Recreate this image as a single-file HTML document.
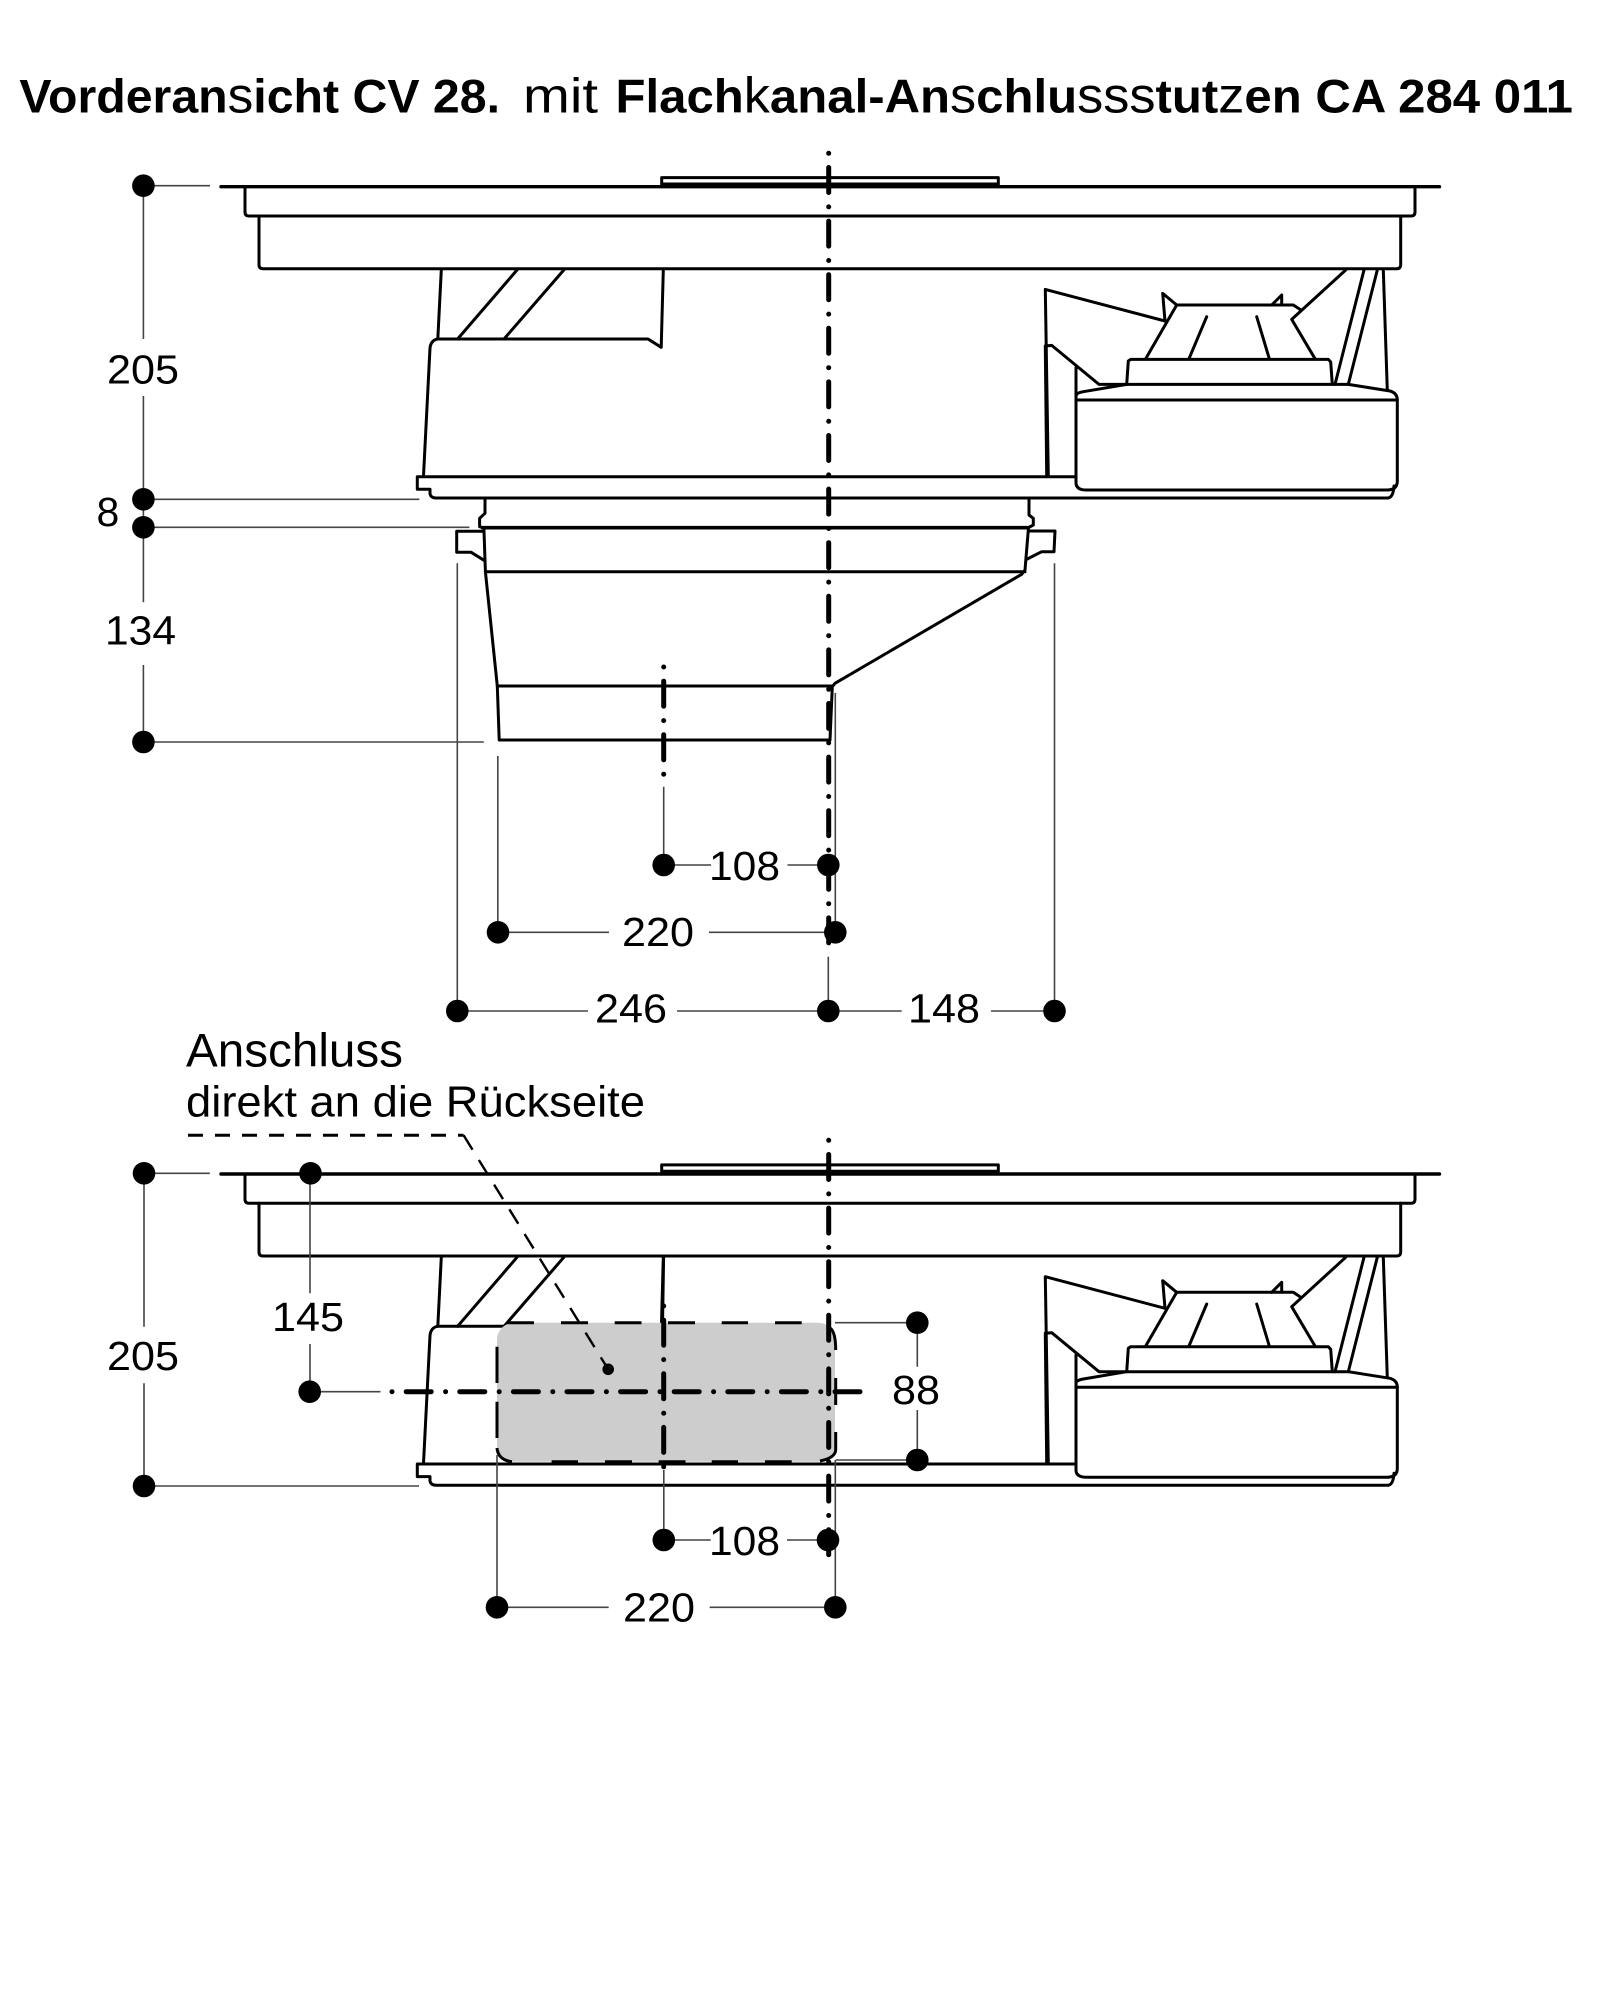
<!DOCTYPE html>
<html lang="de">
<head>
<meta charset="utf-8">
<title>Vorderansicht CV 28</title>
<style>
html,body{margin:0;padding:0;background:#fff}
svg{display:block}
text{font-family:"Liberation Sans",sans-serif;fill:#000}
.d{font-size:41px}
.o{fill:none;stroke:#000;stroke-width:3;stroke-linejoin:round;stroke-linecap:round}
.t{fill:none;stroke:#444;stroke-width:1.6}
.c{fill:none;stroke:#000;stroke-width:5;stroke-linecap:round;stroke-dasharray:0 14.2 25 14.4}
.n{font-weight:400;font-size:50px}
</style>
</head>
<body>
<svg xmlns="http://www.w3.org/2000/svg" width="1612" height="2000" viewBox="0 0 1612 2000">
<rect width="1612" height="2000" fill="#fff"/>

<!-- title -->
<text x="19.4" y="112.7" font-size="47" font-weight="700" textLength="480.6" lengthAdjust="spacingAndGlyphs">Vorderan<tspan class="n">s</tspan>icht CV 28.</text>
<text x="523" y="112.7" font-size="49" textLength="75" lengthAdjust="spacingAndGlyphs">mit</text>
<text x="615.5" y="112.7" font-size="47" font-weight="700" textLength="957.5" lengthAdjust="spacingAndGlyphs">Flach<tspan class="n">k</tspan>anal-An<tspan class="n">s</tspan>chlu<tspan class="n">sss</tspan>tut<tspan class="n">z</tspan>en CA 284 011</text>

<defs>
<g id="a">
  <!-- top plates -->
  <path class="o" d="M221 186.7H1439.5" style="stroke-width:3.4"/>
  <path class="o" d="M661.7 186.7V177.6H998.3V186.7M661.7 184H998.3"/>
  <path class="o" d="M245 187V212Q245 216 249 216H1411Q1415 216 1415 212V187"/>
  <path class="o" d="M259 216V264.7Q259 268.7 263 268.7H1396.7Q1400.7 268.7 1400.7 264.7V216"/>
  <!-- left fan -->
  <path class="o" d="M441.3 270L437.8 339"/>
  <path class="o" d="M517 270L457.6 339M563.8 270L504 339"/>
  <path class="o" d="M663.3 270L661.2 347.3L648 339H437.8Q431 340 430 348L423.5 476"/>
  <!-- lower plate -->
  <path class="o" d="M1076 476.7H417.3V489.3H430V494Q431 498 436 498H1388.3Q1393.3 497 1394 486"/>
  <!-- right fan -->
  <path class="o" d="M1048.3 476L1045.3 289.4L1165 321L1162.7 293.4L1176.7 305H1293.3L1300 309.4"/>
  <path class="o" d="M1046.7 476L1045.3 346L1051.7 345.4L1099 384.4H1348.3L1390 391Q1397.3 393 1397.3 400V481Q1397.3 490 1386.7 490H1086.7Q1076 490 1076 482.7V396Q1076 393 1083.3 391.7L1126.7 384.4"/>
  <path class="o" d="M1076 367.7V396M1076 400H1397.3"/>
  <path class="o" d="M1126.7 384.4L1128.3 361L1130.7 359.4H1328.3L1330.7 362L1332.3 384.4"/>
  <path class="o" d="M1145.7 358.7L1176.7 305M1315 358.7L1291.7 319.4L1345.7 270"/>
  <path class="o" d="M1271.7 305L1281.7 295V305"/>
  <path class="o" d="M1189 358.7L1206.7 316.7M1269.3 358.7L1256.7 316.7"/>
  <path class="o" d="M1335 384.4L1364 270M1348.3 384.4L1377.3 270M1383.3 270L1387.3 390.4"/>
</g>
</defs>

<use href="#a"/>
<use href="#a" y="987.3"/>

<!-- collar and duct of the upper view -->
<g>
  <path class="o" d="M485 498.3V513.3L479.6 518.3V526.7L482.7 527.7"/>
  <path class="o" d="M1029 498.3V515L1033.3 518.3V525L1028.3 527.7"/>
  <path class="o" d="M482.7 527.7H1028.3" style="stroke-width:3.6"/>
  <path class="o" d="M483.5 531.3H456.7V552.3H471.2L484.6 560.7"/>
  <path class="o" d="M483.9 528.3L485.4 571.7L497.3 686L499.2 740H830L832.3 686.7L835 683.3L1021.7 574.3L1025 570L1028.3 530"/>
  <path class="o" d="M485.4 571.7H1025M497.3 686H832"/>
  <path class="o" d="M1028.3 531H1055L1054 551.7H1041.7L1027.3 559"/>
</g>

<!-- gray connection area -->
<rect x="497" y="1322.7" width="338" height="139" rx="17" fill="#cdcdcd"/>
<g fill="none" stroke="#000" stroke-width="3">
  <path d="M507.6 1322.7H534M561 1322.7H588M614.7 1322.7H641.5M668 1322.7H695M721.7 1322.7H748M775 1322.7H801.7"/>
  <path d="M497 1346.7V1383M497 1401.7V1438"/>
  <path d="M497 1448Q498 1460 512 1461.7M551.6 1461.7H578M605 1461.7H632M658.7 1461.7H685.5M711.7 1461.7H738M765 1461.7H791.7"/>
  <path d="M830 1328Q835.7 1332 835.7 1350M835.7 1378V1405M835.7 1432V1450Q835 1458 820 1461"/>
</g>

<!-- thin dimension lines: upper -->
<g class="t">
  <path d="M143.4 185.7H210M143.4 185.7V339M143.4 396V602.3M143.4 665V742"/>
  <path d="M143.4 499.3H419.4M143.4 527.3H469.4M143.4 742H483.8"/>
  <path d="M457.3 563.3V1011M497.8 756V932.3M1054.5 563.3V1011M835.3 693V932.3"/>
  <path d="M663.7 786.7V865M828.3 956.7V1011"/>
  <path d="M663.7 865H711M787.5 865H828.3"/>
  <path d="M498 932.3H609M709 932.3H835"/>
  <path d="M457.3 1011H588M677 1011H901.7M991 1011H1054.5"/>
  <!-- lower -->
  <path d="M144 1173.3H209.8M144 1173.3V1326.7M144 1383.3V1486H419"/>
  <path d="M310 1173.3V1293.3M310 1344V1391.7H380.5"/>
  <path d="M835 1322.7H917.3M835.7 1460H917.3M917.3 1322.7V1366.7M917.3 1410V1460"/>
  <path d="M497 1455V1607.3M835.3 1460V1607.3M663.8 1470V1540"/>
  <path d="M663.8 1540H710.7M787 1540H828"/>
  <path d="M497 1607.3H608.7M709.7 1607.3H835"/>
</g>

<path class="o" d="M663.6 1257L662.6 1320"/>

<!-- centre lines -->
<path class="c" d="M828.7 153.3V946"/>
<path class="c" d="M663.7 667V775"/>
<path class="c" d="M828.7 1140.3V1569"/>
<path class="c" d="M663.7 1306V1467"/>
<path class="c" d="M392 1391.7H863"/>

<!-- leader -->
<path d="M188 1135.3H463.6" stroke="#000" stroke-width="3" fill="none" stroke-dasharray="15 12"/>
<path d="M463.6 1135.3L608.2 1369.3" stroke="#000" stroke-width="2.4" fill="none" stroke-dasharray="17 12"/>
<circle cx="608.2" cy="1369.3" r="5.8"/>

<!-- dots -->
<g fill="#000">
  <circle cx="143.4" cy="185.7" r="11.3"/>
  <circle cx="143.4" cy="499.3" r="11.3"/>
  <circle cx="143.4" cy="527.3" r="11.3"/>
  <circle cx="143.4" cy="742" r="11.3"/>
  <circle cx="663.7" cy="865" r="11.3"/>
  <circle cx="828.3" cy="865" r="11.3"/>
  <circle cx="498" cy="932.3" r="11.3"/>
  <circle cx="835.3" cy="932.3" r="11.3"/>
  <circle cx="457.3" cy="1011" r="11.3"/>
  <circle cx="828.3" cy="1011" r="11.3"/>
  <circle cx="1054.5" cy="1011" r="11.3"/>
  <circle cx="144" cy="1173.3" r="11.3"/>
  <circle cx="310.5" cy="1173.3" r="11.3"/>
  <circle cx="309.7" cy="1391.7" r="11.3"/>
  <circle cx="917.3" cy="1322.7" r="11.3"/>
  <circle cx="917.3" cy="1460" r="11.3"/>
  <circle cx="144" cy="1486" r="11.3"/>
  <circle cx="663.8" cy="1540" r="11.3"/>
  <circle cx="828" cy="1540" r="11.3"/>
  <circle cx="497" cy="1607.3" r="11.3"/>
  <circle cx="835.3" cy="1607.3" r="11.3"/>
</g>

<!-- dimension numbers -->
<text class="d" x="107" y="383.3" textLength="72" lengthAdjust="spacingAndGlyphs">205</text>
<text class="d" x="96.5" y="526">8</text>
<text class="d" x="105" y="644.3" textLength="71" lengthAdjust="spacingAndGlyphs">134</text>
<text class="d" x="709" y="880" textLength="71" lengthAdjust="spacingAndGlyphs">108</text>
<text class="d" x="622" y="946" textLength="72" lengthAdjust="spacingAndGlyphs">220</text>
<text class="d" x="595" y="1022.7" textLength="72" lengthAdjust="spacingAndGlyphs">246</text>
<text class="d" x="908" y="1022.7" textLength="72" lengthAdjust="spacingAndGlyphs">148</text>
<text class="d" x="107" y="1370" textLength="72" lengthAdjust="spacingAndGlyphs">205</text>
<text class="d" x="272" y="1331" textLength="72" lengthAdjust="spacingAndGlyphs">145</text>
<text class="d" x="892" y="1404" textLength="48" lengthAdjust="spacingAndGlyphs">88</text>
<text class="d" x="709" y="1555" textLength="71" lengthAdjust="spacingAndGlyphs">108</text>
<text class="d" x="623" y="1621.5" textLength="72" lengthAdjust="spacingAndGlyphs">220</text>

<text x="186" y="1066.7" font-size="47" textLength="217" lengthAdjust="spacingAndGlyphs">Anschluss</text>
<text x="186" y="1116.7" font-size="44" textLength="459" lengthAdjust="spacingAndGlyphs">direkt an die Rückseite</text>
</svg>
</body>
</html>
